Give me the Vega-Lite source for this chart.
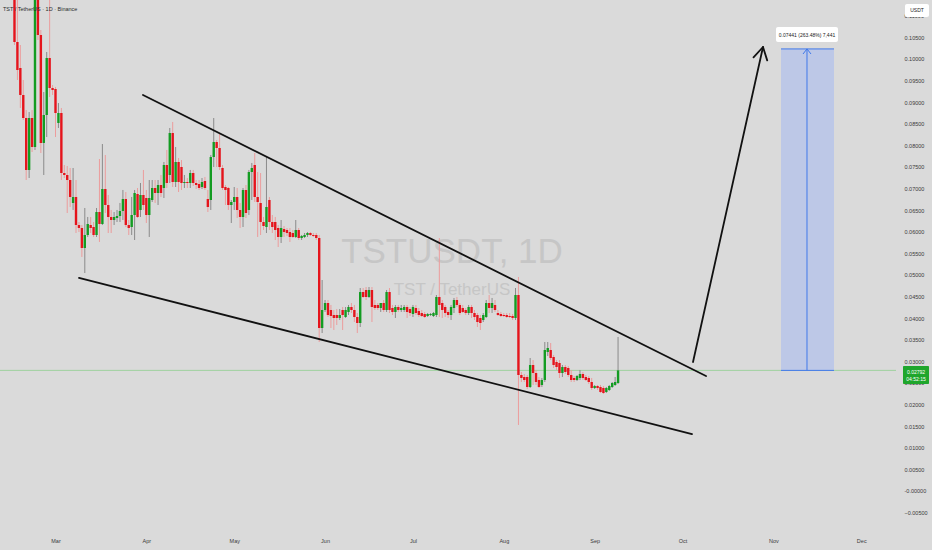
{
"$schema":"https://vega.github.io/schema/vega-lite/v6.json",
"width":896,"height":530,
"autosize":{"type":"none"},
"padding":{"left":0,"top":0,"right":36,"bottom":20},
"background":"#dadada",
"config":{"view":{"stroke":null},"font":"Liberation Sans"},
"datasets":{
"candles":[
{"d":"2025-02-15","o":0.11597,"h":0.11829,"l":0.10324,"c":0.10394},
{"d":"2025-02-16","o":0.10394,"h":0.11366,"l":0.09514,"c":0.09745},
{"d":"2025-02-17","o":0.09792,"h":0.10324,"l":0.08866,"c":0.09167},
{"d":"2025-02-18","o":0.09167,"h":0.09514,"l":0.08588,"c":0.08634},
{"d":"2025-02-19","o":0.08634,"h":0.08819,"l":0.07199,"c":0.07431},
{"d":"2025-02-20","o":0.07431,"h":0.08773,"l":0.07245,"c":0.08634},
{"d":"2025-02-21","o":0.08634,"h":0.08819,"l":0.07847,"c":0.07963},
{"d":"2025-02-22","o":0.07963,"h":0.11829,"l":0.07894,"c":0.11597},
{"d":"2025-02-23","o":0.11481,"h":0.11829,"l":0.10440,"c":0.10556},
{"d":"2025-02-24","o":0.10556,"h":0.10671,"l":0.07824,"c":0.08056},
{"d":"2025-02-25","o":0.08056,"h":0.09236,"l":0.07315,"c":0.08704},
{"d":"2025-02-26","o":0.08704,"h":0.10162,"l":0.08194,"c":0.10023},
{"d":"2025-02-27","o":0.10023,"h":0.11366,"l":0.09120,"c":0.09329},
{"d":"2025-02-28","o":0.09329,"h":0.09398,"l":0.09167,"c":0.09282},
{"d":"2025-03-01","o":0.09306,"h":0.09352,"l":0.08194,"c":0.08750},
{"d":"2025-03-02","o":0.08519,"h":0.08981,"l":0.08403,"c":0.08750},
{"d":"2025-03-03","o":0.08750,"h":0.08866,"l":0.07199,"c":0.07361},
{"d":"2025-03-04","o":0.07361,"h":0.07546,"l":0.07245,"c":0.07315},
{"d":"2025-03-05","o":0.07315,"h":0.07523,"l":0.06435,"c":0.07199},
{"d":"2025-03-06","o":0.07199,"h":0.07477,"l":0.06574,"c":0.06806},
{"d":"2025-03-07","o":0.06667,"h":0.07477,"l":0.06505,"c":0.06806},
{"d":"2025-03-08","o":0.06806,"h":0.07199,"l":0.05972,"c":0.06157},
{"d":"2025-03-09","o":0.06157,"h":0.06227,"l":0.05995,"c":0.06088},
{"d":"2025-03-10","o":0.06088,"h":0.06157,"l":0.05417,"c":0.05625},
{"d":"2025-03-11","o":0.05625,"h":0.06551,"l":0.05046,"c":0.05926},
{"d":"2025-03-12","o":0.05926,"h":0.06343,"l":0.05880,"c":0.06181},
{"d":"2025-03-13","o":0.06157,"h":0.06343,"l":0.05972,"c":0.06088},
{"d":"2025-03-14","o":0.06111,"h":0.06227,"l":0.05880,"c":0.05926},
{"d":"2025-03-15","o":0.05926,"h":0.06551,"l":0.05880,"c":0.06458},
{"d":"2025-03-16","o":0.06458,"h":0.07685,"l":0.05764,"c":0.06181},
{"d":"2025-03-17","o":0.06181,"h":0.08032,"l":0.06157,"c":0.06991},
{"d":"2025-03-18","o":0.06991,"h":0.07778,"l":0.06435,"c":0.06620},
{"d":"2025-03-19","o":0.06620,"h":0.06852,"l":0.05972,"c":0.06343},
{"d":"2025-03-20","o":0.06343,"h":0.06505,"l":0.05972,"c":0.06273},
{"d":"2025-03-21","o":0.06273,"h":0.06458,"l":0.06157,"c":0.06343},
{"d":"2025-03-22","o":0.06319,"h":0.06505,"l":0.06227,"c":0.06366},
{"d":"2025-03-23","o":0.06366,"h":0.06667,"l":0.06227,"c":0.06481},
{"d":"2025-03-24","o":0.06481,"h":0.06968,"l":0.06273,"c":0.06759},
{"d":"2025-03-25","o":0.06759,"h":0.06921,"l":0.06111,"c":0.06157},
{"d":"2025-03-26","o":0.06157,"h":0.06273,"l":0.05926,"c":0.06088},
{"d":"2025-03-27","o":0.06111,"h":0.06806,"l":0.05926,"c":0.06389},
{"d":"2025-03-28","o":0.06389,"h":0.06968,"l":0.05810,"c":0.06898},
{"d":"2025-03-29","o":0.06875,"h":0.07014,"l":0.06319,"c":0.06343},
{"d":"2025-03-30","o":0.06505,"h":0.07130,"l":0.06343,"c":0.06852},
{"d":"2025-03-31","o":0.06852,"h":0.07431,"l":0.06505,"c":0.06620},
{"d":"2025-04-01","o":0.06782,"h":0.06968,"l":0.06204,"c":0.06389},
{"d":"2025-04-02","o":0.06389,"h":0.07199,"l":0.05880,"c":0.06782},
{"d":"2025-04-03","o":0.06736,"h":0.07199,"l":0.06690,"c":0.07014},
{"d":"2025-04-04","o":0.07014,"h":0.07199,"l":0.06667,"c":0.06898},
{"d":"2025-04-05","o":0.06898,"h":0.07199,"l":0.06620,"c":0.07083},
{"d":"2025-04-06","o":0.07083,"h":0.07315,"l":0.06806,"c":0.06898},
{"d":"2025-04-07","o":0.07014,"h":0.07616,"l":0.06782,"c":0.07546},
{"d":"2025-04-08","o":0.07546,"h":0.07894,"l":0.07014,"c":0.07130},
{"d":"2025-04-09","o":0.07315,"h":0.08403,"l":0.07130,"c":0.08287},
{"d":"2025-04-10","o":0.08287,"h":0.08542,"l":0.07037,"c":0.07153},
{"d":"2025-04-11","o":0.07153,"h":0.07963,"l":0.07037,"c":0.07616},
{"d":"2025-04-12","o":0.07616,"h":0.07708,"l":0.06921,"c":0.07153},
{"d":"2025-04-13","o":0.07500,"h":0.07662,"l":0.06968,"c":0.07130},
{"d":"2025-04-14","o":0.07130,"h":0.07315,"l":0.07014,"c":0.07153},
{"d":"2025-04-15","o":0.07153,"h":0.07245,"l":0.07014,"c":0.07130},
{"d":"2025-04-16","o":0.07130,"h":0.07431,"l":0.07014,"c":0.07361},
{"d":"2025-04-17","o":0.07361,"h":0.07431,"l":0.07060,"c":0.07130},
{"d":"2025-04-18","o":0.07130,"h":0.07199,"l":0.06991,"c":0.07083},
{"d":"2025-04-19","o":0.07106,"h":0.07199,"l":0.06968,"c":0.07014},
{"d":"2025-04-20","o":0.07037,"h":0.07245,"l":0.06991,"c":0.07153},
{"d":"2025-04-21","o":0.07176,"h":0.07269,"l":0.06968,"c":0.07014},
{"d":"2025-04-22","o":0.06759,"h":0.06968,"l":0.06458,"c":0.06574},
{"d":"2025-04-23","o":0.06736,"h":0.07778,"l":0.06505,"c":0.07731},
{"d":"2025-04-24","o":0.07731,"h":0.08634,"l":0.07500,"c":0.08079},
{"d":"2025-04-25","o":0.08079,"h":0.08125,"l":0.07500,"c":0.07940},
{"d":"2025-04-26","o":0.07940,"h":0.08287,"l":0.07431,"c":0.07500},
{"d":"2025-04-27","o":0.07477,"h":0.07546,"l":0.06968,"c":0.07014},
{"d":"2025-04-28","o":0.07037,"h":0.07083,"l":0.06620,"c":0.06968},
{"d":"2025-04-29","o":0.07014,"h":0.07037,"l":0.06505,"c":0.06620},
{"d":"2025-04-30","o":0.06620,"h":0.06736,"l":0.06204,"c":0.06690},
{"d":"2025-05-01","o":0.06690,"h":0.07037,"l":0.06505,"c":0.06806},
{"d":"2025-05-02","o":0.06806,"h":0.07014,"l":0.06319,"c":0.06505},
{"d":"2025-05-03","o":0.06505,"h":0.06667,"l":0.06088,"c":0.06343},
{"d":"2025-05-04","o":0.06343,"h":0.07014,"l":0.06111,"c":0.06968},
{"d":"2025-05-05","o":0.06968,"h":0.07083,"l":0.06319,"c":0.06435},
{"d":"2025-05-06","o":0.06505,"h":0.07431,"l":0.06389,"c":0.07384},
{"d":"2025-05-07","o":0.07384,"h":0.07593,"l":0.06736,"c":0.07477},
{"d":"2025-05-08","o":0.07546,"h":0.07824,"l":0.06690,"c":0.06806},
{"d":"2025-05-09","o":0.06806,"h":0.07384,"l":0.05880,"c":0.06690},
{"d":"2025-05-10","o":0.06667,"h":0.07361,"l":0.05926,"c":0.06227},
{"d":"2025-05-11","o":0.06227,"h":0.06343,"l":0.06042,"c":0.06134},
{"d":"2025-05-12","o":0.06111,"h":0.07731,"l":0.05972,"c":0.06574},
{"d":"2025-05-13","o":0.06736,"h":0.06806,"l":0.06042,"c":0.06227},
{"d":"2025-05-14","o":0.06227,"h":0.06389,"l":0.05972,"c":0.06111},
{"d":"2025-05-15","o":0.06227,"h":0.06343,"l":0.05810,"c":0.06042},
{"d":"2025-05-16","o":0.06088,"h":0.06157,"l":0.05648,"c":0.05880},
{"d":"2025-05-17","o":0.05880,"h":0.06273,"l":0.05741,"c":0.06088},
{"d":"2025-05-18","o":0.06065,"h":0.06134,"l":0.05880,"c":0.05995},
{"d":"2025-05-19","o":0.06042,"h":0.06088,"l":0.05903,"c":0.05972},
{"d":"2025-05-20","o":0.05995,"h":0.06088,"l":0.05764,"c":0.05880},
{"d":"2025-05-21","o":0.05972,"h":0.06042,"l":0.05856,"c":0.05880},
{"d":"2025-05-22","o":0.05880,"h":0.06273,"l":0.05856,"c":0.06042},
{"d":"2025-05-23","o":0.06042,"h":0.06088,"l":0.05810,"c":0.05856},
{"d":"2025-05-24","o":0.05856,"h":0.05926,"l":0.05810,"c":0.05903},
{"d":"2025-05-25","o":0.05880,"h":0.05972,"l":0.05856,"c":0.05926},
{"d":"2025-05-26","o":0.05926,"h":0.05995,"l":0.05880,"c":0.05972},
{"d":"2025-05-27","o":0.05972,"h":0.05995,"l":0.05903,"c":0.05926},
{"d":"2025-05-28","o":0.05926,"h":0.05972,"l":0.05880,"c":0.05903},
{"d":"2025-05-29","o":0.05926,"h":0.05972,"l":0.05810,"c":0.05856},
{"d":"2025-05-30","o":0.05856,"h":0.05926,"l":0.03449,"c":0.03773},
{"d":"2025-05-31","o":0.03773,"h":0.04884,"l":0.03657,"c":0.04190},
{"d":"2025-06-01","o":0.04190,"h":0.04421,"l":0.04144,"c":0.04352},
{"d":"2025-06-02","o":0.04352,"h":0.04421,"l":0.04028,"c":0.04074},
{"d":"2025-06-03","o":0.04190,"h":0.04306,"l":0.03773,"c":0.04051},
{"d":"2025-06-04","o":0.04074,"h":0.04190,"l":0.03727,"c":0.04005},
{"d":"2025-06-05","o":0.04074,"h":0.04213,"l":0.03843,"c":0.04005},
{"d":"2025-06-06","o":0.04005,"h":0.04213,"l":0.03958,"c":0.04074},
{"d":"2025-06-07","o":0.04190,"h":0.04259,"l":0.03727,"c":0.04074},
{"d":"2025-06-08","o":0.04028,"h":0.04259,"l":0.04005,"c":0.04190},
{"d":"2025-06-09","o":0.04144,"h":0.04306,"l":0.04074,"c":0.04259},
{"d":"2025-06-10","o":0.04259,"h":0.04352,"l":0.04120,"c":0.04190},
{"d":"2025-06-11","o":0.04190,"h":0.04306,"l":0.03912,"c":0.04028},
{"d":"2025-06-12","o":0.04028,"h":0.04120,"l":0.03657,"c":0.03889},
{"d":"2025-06-13","o":0.03889,"h":0.04699,"l":0.03796,"c":0.04606},
{"d":"2025-06-14","o":0.04606,"h":0.04699,"l":0.04468,"c":0.04491},
{"d":"2025-06-15","o":0.04653,"h":0.04722,"l":0.04421,"c":0.04491},
{"d":"2025-06-16","o":0.04491,"h":0.04722,"l":0.04468,"c":0.04653},
{"d":"2025-06-17","o":0.04653,"h":0.04722,"l":0.03912,"c":0.04259},
{"d":"2025-06-18","o":0.04306,"h":0.04421,"l":0.04190,"c":0.04236},
{"d":"2025-06-19","o":0.04306,"h":0.04352,"l":0.04190,"c":0.04236},
{"d":"2025-06-20","o":0.04236,"h":0.04352,"l":0.04144,"c":0.04352},
{"d":"2025-06-21","o":0.04352,"h":0.04421,"l":0.04144,"c":0.04190},
{"d":"2025-06-22","o":0.04190,"h":0.04653,"l":0.04144,"c":0.04606},
{"d":"2025-06-23","o":0.04606,"h":0.04699,"l":0.04120,"c":0.04190},
{"d":"2025-06-24","o":0.04236,"h":0.04306,"l":0.04074,"c":0.04144},
{"d":"2025-06-25","o":0.04144,"h":0.04306,"l":0.04005,"c":0.04259},
{"d":"2025-06-26","o":0.04259,"h":0.04306,"l":0.04144,"c":0.04190},
{"d":"2025-06-27","o":0.04190,"h":0.04306,"l":0.04144,"c":0.04236},
{"d":"2025-06-28","o":0.04190,"h":0.04306,"l":0.04144,"c":0.04259},
{"d":"2025-06-29","o":0.04259,"h":0.04306,"l":0.04005,"c":0.04144},
{"d":"2025-06-30","o":0.04213,"h":0.04259,"l":0.04051,"c":0.04120},
{"d":"2025-07-01","o":0.04097,"h":0.04306,"l":0.04028,"c":0.04259},
{"d":"2025-07-02","o":0.04236,"h":0.04306,"l":0.04074,"c":0.04120},
{"d":"2025-07-03","o":0.04167,"h":0.04236,"l":0.04028,"c":0.04074},
{"d":"2025-07-04","o":0.04120,"h":0.04190,"l":0.04028,"c":0.04051},
{"d":"2025-07-05","o":0.04097,"h":0.04144,"l":0.04005,"c":0.04028},
{"d":"2025-07-06","o":0.04051,"h":0.04120,"l":0.04028,"c":0.04097},
{"d":"2025-07-07","o":0.04074,"h":0.04120,"l":0.04051,"c":0.04097},
{"d":"2025-07-08","o":0.04051,"h":0.04144,"l":0.04028,"c":0.04120},
{"d":"2025-07-09","o":0.04074,"h":0.04537,"l":0.04028,"c":0.04491},
{"d":"2025-07-10","o":0.04491,"h":0.05856,"l":0.04028,"c":0.04306},
{"d":"2025-07-11","o":0.04352,"h":0.04421,"l":0.04005,"c":0.04190},
{"d":"2025-07-12","o":0.04259,"h":0.04306,"l":0.04028,"c":0.04120},
{"d":"2025-07-13","o":0.04144,"h":0.04190,"l":0.04005,"c":0.04074},
{"d":"2025-07-14","o":0.04074,"h":0.04306,"l":0.03958,"c":0.04259},
{"d":"2025-07-15","o":0.04236,"h":0.04468,"l":0.04120,"c":0.04421},
{"d":"2025-07-16","o":0.04421,"h":0.04491,"l":0.04259,"c":0.04306},
{"d":"2025-07-17","o":0.04306,"h":0.04352,"l":0.04074,"c":0.04120},
{"d":"2025-07-18","o":0.04236,"h":0.04306,"l":0.04120,"c":0.04144},
{"d":"2025-07-19","o":0.04190,"h":0.04236,"l":0.04074,"c":0.04120},
{"d":"2025-07-20","o":0.04120,"h":0.04306,"l":0.04074,"c":0.04259},
{"d":"2025-07-21","o":0.04259,"h":0.04306,"l":0.04005,"c":0.04120},
{"d":"2025-07-22","o":0.04120,"h":0.04190,"l":0.03958,"c":0.04028},
{"d":"2025-07-23","o":0.04074,"h":0.04120,"l":0.03796,"c":0.03912},
{"d":"2025-07-24","o":0.04005,"h":0.04074,"l":0.03727,"c":0.03889},
{"d":"2025-07-25","o":0.03958,"h":0.04120,"l":0.03912,"c":0.04074},
{"d":"2025-07-26","o":0.04028,"h":0.04421,"l":0.04005,"c":0.04352},
{"d":"2025-07-27","o":0.04352,"h":0.04537,"l":0.04120,"c":0.04236},
{"d":"2025-07-28","o":0.04236,"h":0.04468,"l":0.04120,"c":0.04352},
{"d":"2025-07-29","o":0.04306,"h":0.04421,"l":0.04144,"c":0.04190},
{"d":"2025-07-30","o":0.04120,"h":0.04190,"l":0.04051,"c":0.04074},
{"d":"2025-07-31","o":0.04097,"h":0.04144,"l":0.04028,"c":0.04051},
{"d":"2025-08-01","o":0.04074,"h":0.04120,"l":0.04028,"c":0.04051},
{"d":"2025-08-02","o":0.04074,"h":0.04120,"l":0.04005,"c":0.04028},
{"d":"2025-08-03","o":0.04051,"h":0.04120,"l":0.04005,"c":0.04028},
{"d":"2025-08-04","o":0.04051,"h":0.04097,"l":0.03958,"c":0.04005},
{"d":"2025-08-05","o":0.04005,"h":0.04699,"l":0.03958,"c":0.04537},
{"d":"2025-08-06","o":0.04537,"h":0.04954,"l":0.01528,"c":0.02685},
{"d":"2025-08-07","o":0.02685,"h":0.02755,"l":0.02523,"c":0.02616},
{"d":"2025-08-08","o":0.02639,"h":0.02708,"l":0.02523,"c":0.02569},
{"d":"2025-08-09","o":0.02639,"h":0.02685,"l":0.02361,"c":0.02407},
{"d":"2025-08-10","o":0.02407,"h":0.03079,"l":0.02384,"c":0.02917},
{"d":"2025-08-11","o":0.02917,"h":0.03032,"l":0.02454,"c":0.02731},
{"d":"2025-08-12","o":0.02731,"h":0.02801,"l":0.02454,"c":0.02523},
{"d":"2025-08-13","o":0.02569,"h":0.02639,"l":0.02384,"c":0.02407},
{"d":"2025-08-14","o":0.02454,"h":0.02616,"l":0.02407,"c":0.02569},
{"d":"2025-08-15","o":0.02569,"h":0.03449,"l":0.02523,"c":0.03264},
{"d":"2025-08-16","o":0.03218,"h":0.03449,"l":0.03125,"c":0.03310},
{"d":"2025-08-17","o":0.03264,"h":0.03426,"l":0.03032,"c":0.03079},
{"d":"2025-08-18","o":0.03102,"h":0.03148,"l":0.02847,"c":0.02917},
{"d":"2025-08-19","o":0.02986,"h":0.03032,"l":0.02801,"c":0.02870},
{"d":"2025-08-20","o":0.02963,"h":0.03032,"l":0.02616,"c":0.02731},
{"d":"2025-08-21","o":0.02731,"h":0.02917,"l":0.02639,"c":0.02870},
{"d":"2025-08-22","o":0.02870,"h":0.02917,"l":0.02708,"c":0.02755},
{"d":"2025-08-23","o":0.02847,"h":0.02894,"l":0.02639,"c":0.02685},
{"d":"2025-08-24","o":0.02685,"h":0.02801,"l":0.02523,"c":0.02569},
{"d":"2025-08-25","o":0.02616,"h":0.02662,"l":0.02523,"c":0.02569},
{"d":"2025-08-26","o":0.02569,"h":0.02685,"l":0.02546,"c":0.02662},
{"d":"2025-08-27","o":0.02616,"h":0.02801,"l":0.02569,"c":0.02708},
{"d":"2025-08-28","o":0.02708,"h":0.02755,"l":0.02569,"c":0.02616},
{"d":"2025-08-29","o":0.02639,"h":0.02685,"l":0.02546,"c":0.02569},
{"d":"2025-08-30","o":0.02616,"h":0.02662,"l":0.02477,"c":0.02523},
{"d":"2025-08-31","o":0.02523,"h":0.02616,"l":0.02338,"c":0.02384},
{"d":"2025-09-01","o":0.02384,"h":0.02454,"l":0.02361,"c":0.02431},
{"d":"2025-09-02","o":0.02431,"h":0.02454,"l":0.02338,"c":0.02384},
{"d":"2025-09-03","o":0.02407,"h":0.02454,"l":0.02269,"c":0.02292},
{"d":"2025-09-04","o":0.02384,"h":0.02431,"l":0.02245,"c":0.02269},
{"d":"2025-09-05","o":0.02292,"h":0.02407,"l":0.02269,"c":0.02384},
{"d":"2025-09-06","o":0.02338,"h":0.02454,"l":0.02315,"c":0.02431},
{"d":"2025-09-07","o":0.02407,"h":0.02523,"l":0.02384,"c":0.02500},
{"d":"2025-09-08","o":0.02454,"h":0.02639,"l":0.02431,"c":0.02523},
{"d":"2025-09-09","o":0.02500,"h":0.03565,"l":0.02477,"c":0.02792}
],
"lines":[
{"id":"up","i":0,"d":"2025-03-30T20:40:00Z","p":0.09167},
{"id":"up","i":1,"d":"2025-10-09T00:15:00Z","p":0.02662},
{"id":"low","i":0,"d":"2025-03-09T00:30:00Z","p":0.04931},
{"id":"low","i":1,"d":"2025-10-04T05:45:00Z","p":0.01319},
{"id":"arrow","i":0,"d":"2025-10-04T13:55:00Z","p":0.02986},
{"id":"arrow","i":1,"d":"2025-10-28T11:15:00Z","p":0.10278},
{"id":"arrowhead","i":0,"d":"2025-10-25T05:30:00Z","p":0.10039},
{"id":"arrowhead","i":1,"d":"2025-10-28T11:15:00Z","p":0.10278},
{"id":"arrowhead","i":2,"d":"2025-10-29T21:40:00Z","p":0.09968},
{"id":"boxtop","i":0,"d":"2025-11-03T14:40:00Z","p":0.10233},
{"id":"boxtop","i":1,"d":"2025-11-21T16:50:00Z","p":0.10233},
{"id":"boxbot","i":0,"d":"2025-11-03T14:40:00Z","p":0.02792},
{"id":"boxbot","i":1,"d":"2025-11-21T16:50:00Z","p":0.02792},
{"id":"boxarrow","i":0,"d":"2025-11-12T11:30:00Z","p":0.02792},
{"id":"boxarrow","i":1,"d":"2025-11-12T11:30:00Z","p":0.10233},
{"id":"boxhead","i":0,"d":"2025-11-11T03:00:00Z","p":0.10116},
{"id":"boxhead","i":1,"d":"2025-11-12T11:30:00Z","p":0.10233},
{"id":"boxhead","i":2,"d":"2025-11-13T20:20:00Z","p":0.10116}
],
"rects":[
{"id":"target","d":"2025-11-03T14:40:00Z","d2":"2025-11-21T16:50:00Z","p":0.02792,"p2":0.10233},
{"id":"tag","d":"2025-11-01T21:40:00Z","d2":"2025-11-23T01:30:00Z","p":0.10394,"p2":0.10741},
{"id":"pricetag","d":"2025-12-15T06:00:00Z","d2":"2025-12-24T03:00:00Z","p":0.02477,"p2":0.02894},
{"id":"usdt","d":"2025-12-15T22:20:00Z","d2":"2025-12-24T03:00:00Z","p":0.10972,"p2":0.11273}
],
"texts":[
{"id":"pline","d":"2025-09-09","p":0.02792,"t":""},
{"id":"wm1","d":"2025-07-14T07:40:00Z","p":0.05532,"t":"TSTUSDT, 1D"},
{"id":"wm2","d":"2025-07-14T07:40:00Z","p":0.04653,"t":"TST / TetherUS"},
{"id":"title","d":"2025-02-11T02:00:00Z","p":0.11157,"t":"TST / TetherUS · 1D · Binance"},
{"id":"tagtxt","d":"2025-11-12T11:30:00Z","p":0.10567,"t":"0.07441 (263.48%) 7,441"},
{"id":"usdttxt","d":"2025-12-20T00:45:00Z","p":0.11123,"t":"USDT"},
{"id":"pl1","d":"2025-12-19T16:30:00Z","p":0.02762,"t":"0.02792"},
{"id":"pl2","d":"2025-12-19T16:30:00Z","p":0.02600,"t":"04:52:15"}
]
},
"layer":[
{"data":{"name":"texts"},"transform":[{"filter":"datum.id == 'pline'"}],
 "mark":{"type":"rule","color":"#9fd19f","strokeWidth":1},
 "encoding":{"y":{"field":"p","type":"quantitative","scale":{"domain":[-0.009028,0.113657],"nice":false,"zero":false},
   "axis":{"title":null,"orient":"right","tickCount":200,"values":[-0.005,0,0.005,0.01,0.015,0.02,0.025,0.03,0.035,0.04,0.045,0.05,0.055,0.06,0.065,0.07,0.075,0.08,0.085,0.09,0.095,0.1,0.105,0.11],
   "labelExpr":"abs(datum.value) < 1e-9 ? '-0.00000' : format(datum.value, '.5f')","labelOverlap":false,"labelBound":false,"ticks":false,"domain":false,"grid":false,"labelPadding":8,"labelFontSize":5.5,"labelColor":"#3a3a3a","labelFont":"Liberation Sans"}}}},
{"data":{"name":"texts"},"transform":[{"filter":"datum.id == 'wm1'"}],
 "mark":{"type":"text","font":"Liberation Sans","fontSize":35,"color":"#c6c6c6","align":"center","baseline":"middle"},
 "encoding":{"x":{"field":"d","type":"temporal","scale":{"type":"utc","padding":0,"domain":[{"year":2025,"month":2,"date":10,"hours":1,"minutes":23,"utc":true},{"year":2025,"month":12,"date":12,"hours":20,"minutes":38,"utc":true}]},
   "axis":{"title":null,"tickCount":200,"values":[{"year":2025,"month":3,"date":1,"utc":true},{"year":2025,"month":4,"date":1,"utc":true},{"year":2025,"month":5,"date":1,"utc":true},{"year":2025,"month":6,"date":1,"utc":true},{"year":2025,"month":7,"date":1,"utc":true},{"year":2025,"month":8,"date":1,"utc":true},{"year":2025,"month":9,"date":1,"utc":true},{"year":2025,"month":10,"date":1,"utc":true},{"year":2025,"month":11,"date":1,"utc":true},{"year":2025,"month":12,"date":1,"utc":true}],
   "labelExpr":"utcFormat(datum.value, '%b')","labelFlush":false,"labelOverlap":false,"ticks":false,"domain":false,"grid":false,"labelPadding":8,"labelFontSize":5.5,"labelColor":"#3a3a3a","labelFont":"Liberation Sans"}},
  "y":{"field":"p","type":"quantitative"},"text":{"field":"t"}}},
{"data":{"name":"texts"},"transform":[{"filter":"datum.id == 'wm2'"}],
 "mark":{"type":"text","font":"Liberation Sans","fontSize":17,"color":"#c6c6c6","align":"center","baseline":"middle"},
 "encoding":{"x":{"field":"d","type":"temporal"},"y":{"field":"p","type":"quantitative"},"text":{"field":"t"}}},
{"data":{"name":"rects"},"transform":[{"filter":"datum.id == 'target'"}],
 "mark":{"type":"rect","color":"#bdc8e7"},
 "encoding":{"x":{"field":"d","type":"temporal"},"x2":{"field":"d2"},"y":{"field":"p","type":"quantitative"},"y2":{"field":"p2"}}},
{"data":{"name":"candles"},
 "mark":{"type":"rule","strokeWidth":1,"clip":true},
 "encoding":{"x":{"field":"d","type":"temporal"},"y":{"field":"l","type":"quantitative"},"y2":{"field":"h"},
  "color":{"condition":{"test":"datum.c >= datum.o","value":"#8a8a8a"},"value":"#ec9c9c"}}},
{"data":{"name":"candles"},
 "mark":{"type":"bar","width":2.4,"clip":true},
 "encoding":{"x":{"field":"d","type":"temporal"},"y":{"field":"o","type":"quantitative"},"y2":{"field":"c"},
  "color":{"condition":{"test":"datum.c >= datum.o","value":"#139c22"},"value":"#e5141c"}}},
{"data":{"name":"lines"},"transform":[{"filter":"indexof(['up','low','arrow','arrowhead'], datum.id) >= 0"}],
 "mark":{"type":"line","color":"#111111","strokeWidth":1.8,"strokeCap":"round","strokeJoin":"round"},
 "encoding":{"x":{"field":"d","type":"temporal"},"y":{"field":"p","type":"quantitative"},"detail":{"field":"id"},"order":{"field":"i"}}},
{"data":{"name":"lines"},"transform":[{"filter":"indexof(['boxtop','boxbot','boxarrow','boxhead'], datum.id) >= 0"}],
 "mark":{"type":"line","color":"#3f78ea","strokeWidth":1},
 "encoding":{"x":{"field":"d","type":"temporal"},"y":{"field":"p","type":"quantitative"},"detail":{"field":"id"},"order":{"field":"i"}}},
{"data":{"name":"rects"},"transform":[{"filter":"datum.id == 'tag' || datum.id == 'usdt'"}],
 "mark":{"type":"rect","color":"#ffffff","cornerRadius":2},
 "encoding":{"x":{"field":"d","type":"temporal"},"x2":{"field":"d2"},"y":{"field":"p","type":"quantitative"},"y2":{"field":"p2"}}},
{"data":{"name":"rects"},"transform":[{"filter":"datum.id == 'pricetag'"}],
 "mark":{"type":"rect","color":"#1fa62c","cornerRadius":1},
 "encoding":{"x":{"field":"d","type":"temporal"},"x2":{"field":"d2"},"y":{"field":"p","type":"quantitative"},"y2":{"field":"p2"}}},
{"data":{"name":"texts"},"transform":[{"filter":"datum.id == 'tagtxt' || datum.id == 'usdttxt'"}],
 "mark":{"type":"text","font":"Liberation Sans","fontSize":5,"color":"#222222","align":"center","baseline":"middle"},
 "encoding":{"x":{"field":"d","type":"temporal"},"y":{"field":"p","type":"quantitative"},"text":{"field":"t"}}},
{"data":{"name":"texts"},"transform":[{"filter":"datum.id == 'pl1' || datum.id == 'pl2'"}],
 "mark":{"type":"text","font":"Liberation Sans","fontSize":5,"color":"#ffffff","align":"center","baseline":"middle"},
 "encoding":{"x":{"field":"d","type":"temporal"},"y":{"field":"p","type":"quantitative"},"text":{"field":"t"}}},
{"data":{"name":"texts"},"transform":[{"filter":"datum.id == 'title'"}],
 "mark":{"type":"text","font":"Liberation Sans","fontSize":5.5,"color":"#2a2a2a","align":"left","baseline":"middle"},
 "encoding":{"x":{"field":"d","type":"temporal"},"y":{"field":"p","type":"quantitative"},"text":{"field":"t"}}}
]
}
